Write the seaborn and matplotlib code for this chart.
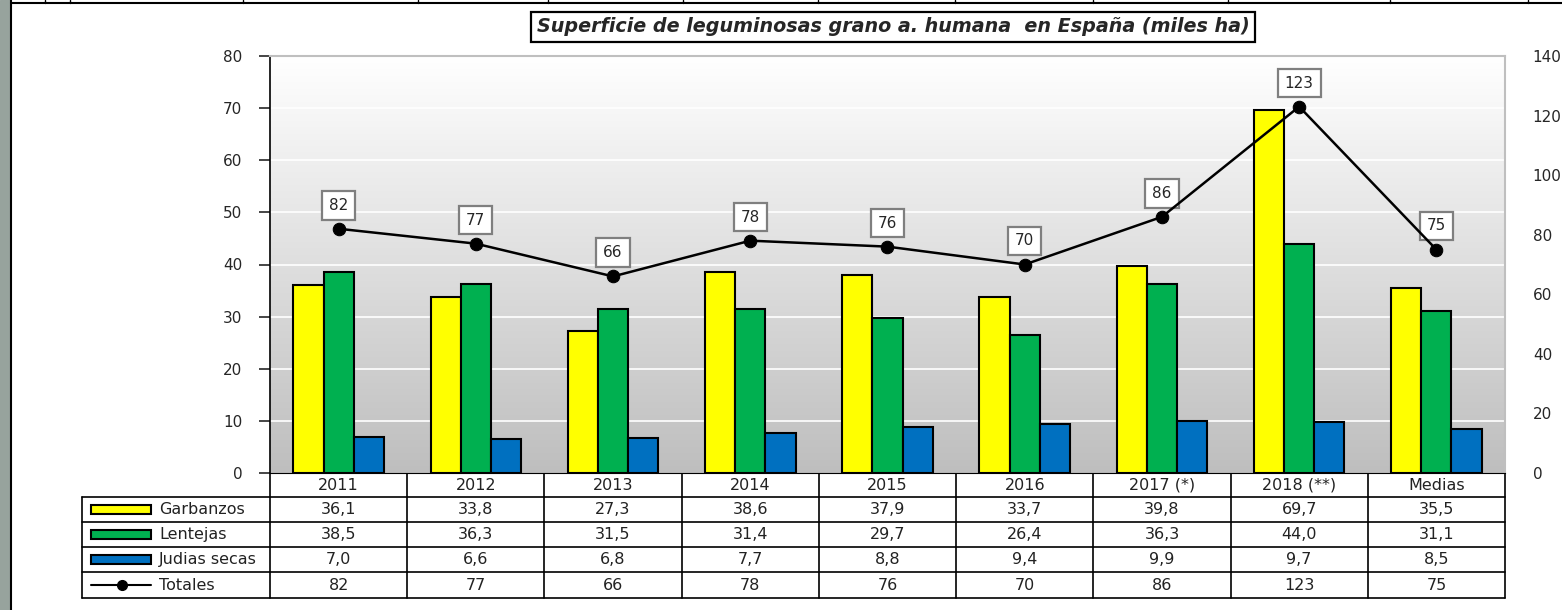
import numpy as np
import pandas as pd
import matplotlib
matplotlib.use("Agg")
import matplotlib.pyplot as plt
import seaborn as sns
from matplotlib.patches import Rectangle

# data
categorias = ["2011", "2012", "2013", "2014", "2015", "2016", "2017 (*)", "2018 (**)", "Medias"]
garbanzos = [36.1, 33.8, 27.3, 38.6, 37.9, 33.7, 39.8, 69.7, 35.5]
lentejas = [38.5, 36.3, 31.5, 31.4, 29.7, 26.4, 36.3, 44.0, 31.1]
judias = [7.0, 6.6, 6.8, 7.7, 8.8, 9.4, 9.9, 9.7, 8.5]
totales = [82, 77, 66, 78, 76, 70, 86, 123, 75]
series = ["Garbanzos", "Lentejas", "Judias secas"]
colores = ["#ffff00", "#00b050", "#0070c0"]

df = pd.DataFrame({
    "cat": categorias * 3,
    "serie": np.repeat(series, len(categorias)),
    "valor": garbanzos + lentejas + judias,
})

sns.set_style("white")
plt.rcParams["font.family"] = ["DejaVu Sans"]

W, H = 1562, 610
fig = plt.figure(figsize=(W / 100, H / 100), dpi=100)

# background overlay in pixel coords (frame, table, title)
bg = fig.add_axes([0, 0, 1, 1])
bg.set_xlim(0, W)
bg.set_ylim(H, 0)
bg.axis("off")
bg.add_patch(Rectangle((0, 0), 10, H, color="#97a39d"))
bg.plot([11, 11], [0, H], color="black", lw=1.5)
bg.plot([11, W], [3, 3], color="black", lw=1.5)
for xx in [45, 70, 243, 418, 548, 683, 818, 955, 1093, 1228, 1390, 1528]:
    bg.plot([xx, xx], [0, 3], color="black", lw=1)

x0, x1 = 270, 1505
y0, y1 = 56, 473
ax = fig.add_axes([x0 / W, 1 - y1 / H, (x1 - x0) / W, (y1 - y0) / H])

# gradient background
grad = np.linspace(1, 0, 256).reshape(-1, 1)
ax.imshow(grad, cmap=matplotlib.colors.LinearSegmentedColormap.from_list("g", ["#bebebe", "#ffffff"]),
          extent=(-0.5, 8.5, 0, 80), aspect="auto", zorder=0, vmin=0, vmax=1)
for yv in range(10, 80, 10):
    ax.axhline(yv, color="white", lw=1.2, zorder=1)

sns.barplot(data=df, x="cat", y="valor", hue="serie", palette=colores, width=0.66, saturation=1,
            edgecolor="black", linewidth=1.5, ax=ax, legend=False, zorder=2)
ax.set_xlim(-0.5, 8.5)
ax.set_ylim(0, 80)
ax.set_yticks(range(0, 81, 10))
ax.set_xlabel("")
ax.set_ylabel("")
ax.set_xticks([])
ax.tick_params(axis="y", direction="out", length=8, width=1.2, pad=12, labelsize=11, left=True)
for s in ["top", "right"]:
    ax.spines[s].set_color("#bfbfbf")
    ax.spines[s].set_linewidth(1.5)
ax.spines["left"].set_color("black")
ax.spines["left"].set_linewidth(1.2)
ax.spines["bottom"].set_color("black")

ax2 = ax.twinx()
sns.lineplot(x=np.arange(len(categorias)), y=totales, color="black", lw=1.8, marker="o",
             markersize=9, markeredgecolor="black", ax=ax2, zorder=5)
ax2.set_ylim(0, 140)
ax2.set_yticks(range(0, 141, 20))
ax2.tick_params(axis="y", length=0, pad=20, labelsize=11)
for s in ax2.spines.values():
    s.set_visible(False)
for i, t in enumerate(totales):
    ax2.annotate(str(t), (i, t), xytext=(0, 17), textcoords="offset points", ha="center",
                 va="center", fontsize=11,
                 bbox=dict(boxstyle="square,pad=0.45", fc="white", ec="#7f7f7f", lw=1.6))

# title
bg.text(893, 27, "Superficie de leguminosas grano a. humana  en España (miles ha)", ha="center",
        va="center", fontsize=13.8, fontweight="bold", fontstyle="italic",
        bbox=dict(boxstyle="square,pad=0.3", fc="white", ec="black", lw=1.6))

# data table
cw = (x1 - x0) / len(categorias)
rows = [473, 497, 522, 547, 572, 598]
for yy in rows[1:]:
    bg.plot([82, x1], [yy, yy], color="black", lw=1.2)
bg.plot([82, 82], [rows[1], rows[-1]], color="black", lw=1.2)
for j in range(len(categorias) + 1):
    xx = x0 + j * cw
    bg.plot([xx, xx], [rows[0], rows[-1]], color="black", lw=1.2)

fs = 11.5
tabla = [garbanzos, lentejas, judias]
for j, c in enumerate(categorias):
    cx = x0 + (j + 0.5) * cw
    bg.text(cx, (rows[0] + rows[1]) / 2, c, ha="center", va="center", fontsize=fs, color="#222222")
    for r in range(3):
        bg.text(cx, (rows[r + 1] + rows[r + 2]) / 2, f"{tabla[r][j]:.1f}".replace(".", ","),
                ha="center", va="center", fontsize=fs, color="#222222")
    bg.text(cx, (rows[4] + rows[5]) / 2, str(totales[j]), ha="center", va="center",
            fontsize=fs, color="#222222")

nombres = series + ["Totales"]
for r, nom in enumerate(nombres):
    cy = (rows[r + 1] + rows[r + 2]) / 2
    if r < 3:
        bg.add_patch(Rectangle((91, cy - 4.5), 60, 9, fc=colores[r], ec="black", lw=1.5))
    else:
        bg.plot([91, 151], [cy, cy], color="black", lw=1.5)
        bg.plot([122], [cy], "o", color="black", markersize=7)
    bg.text(159, cy, nom, ha="left", va="center", fontsize=fs, color="#222222")

fig.savefig("out.png", dpi=100)
